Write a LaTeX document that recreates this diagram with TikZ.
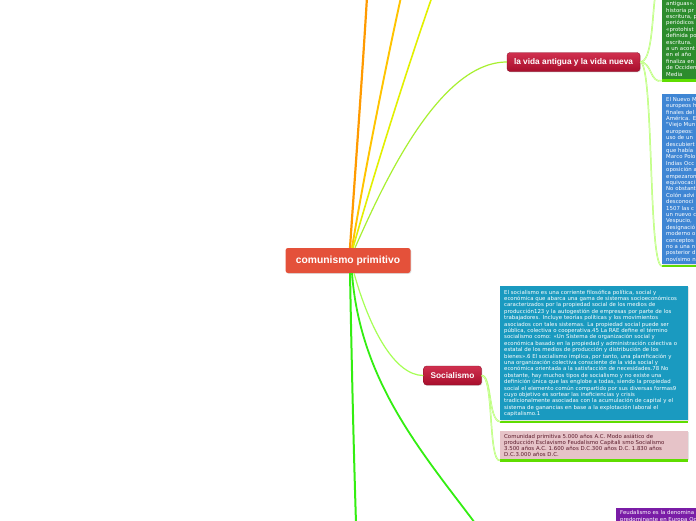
\documentclass[tikz,border=0pt]{standalone}
\usepackage{fontspec}
\setmainfont{Liberation Sans}
\newfontfamily\boxfont{DejaVu Sans}
\usetikzlibrary{shadows}
\definecolor{cpred}{HTML}{E4513A}
\definecolor{crimtop}{HTML}{D0304F}
\definecolor{crimbot}{HTML}{A80E2C}
\definecolor{ggreen}{HTML}{2D8C2D}
\definecolor{bblue}{HTML}{3F86D4}
\definecolor{tteal}{HTML}{1A9AC0}
\definecolor{ppink}{HTML}{E6C3C8}
\definecolor{pinktext}{HTML}{5A1A2A}
\definecolor{ppurple}{HTML}{7A1CA6}
\definecolor{uline}{HTML}{5FDD00}
\definecolor{lorange}{HTML}{FF9A00}
\definecolor{lgold}{HTML}{FFC400}
\definecolor{lyellow}{HTML}{E2F000}
\definecolor{llime}{HTML}{A8F030}
\definecolor{lgreen}{HTML}{33EE11}
\definecolor{lpale}{HTML}{A6FF55}
\definecolor{lsub}{HTML}{B2FF66}
\tikzset{
  cnode/.style={fill=cpred, rounded corners=2.5pt, text=white, font=\bfseries\fontsize{10.3}{12}\selectfont,
    minimum width=125pt, minimum height=25pt, inner sep=0pt, drop shadow={opacity=0.25,shadow xshift=0.8pt,shadow yshift=-0.8pt}},
  mnode/.style={top color=crimtop, bottom color=crimbot, draw=crimbot!80!black, line width=0.3pt, rounded corners=3pt, text=white,
    font=\bfseries\fontsize{8.3}{10}\selectfont, minimum height=19pt, inner sep=0pt,
    drop shadow={opacity=0.25,shadow xshift=0.8pt,shadow yshift=-0.8pt}},
  tbox/.style={anchor=north west, align=left, text=white, inner xsep=4pt, inner ysep=3.5pt,
    font=\boxfont\fontsize{5.4}{6.4}\selectfont,
    drop shadow={opacity=0.2,shadow xshift=0.8pt,shadow yshift=-0.8pt}},
  ul/.style={draw=uline, line width=2.4pt},
  sub/.style={draw=lsub, line width=0.5pt, double=lsub!40!white, double distance=0.5pt},
}
\begin{document}
\begin{tikzpicture}[x=1pt,y=-1pt]
\clip (0,0) rectangle (696,520);
\fill[white] (0,0) rectangle (696,520);

% off-page coordinates
\coordinate (t1) at (367,-3);
\coordinate (t2) at (401,-3);
\coordinate (t3) at (432,-3);
\coordinate (t4) at (655,-3);
\coordinate (b1) at (356,523);
\coordinate (b2) at (475,523);

% boxes
\node[tbox, fill=ggreen, minimum width=60pt, text width=52pt, inner ysep=3pt] (gb) at (662,-7) {que carac\\antiguas».\\historia pr\\escritura, p\\periódicos\\«protohist\\definida po\\escritura. \\a un acont\\en el año \\finaliza en\\de Occiden\\Media};
\node[tbox, fill=bblue, minimum width=60pt, text width=52pt, inner ysep=3pt] (bb) at (662,94) {El Nuevo M\\europeos h\\finales del\\América. E\\"Viejo Mun\\europeos:\\uso de un\\descubiert\\que había\\Marco Polo\\Indias Occ\\oposición a\\empezaron\\equivocaci\\No obstant\\Colón advi\\desconoci\\1507 las c\\un nuevo c\\Vespucio, \\designació\\moderno o\\conceptos\\no a una n\\posterior d\\novísimo n};
\node[tbox, fill=tteal, text width=180pt] (sb) at (500,286) {El socialismo es una corriente filosófica política, social y\\económica que abarca una gama de sistemas socioeconómicos\\caracterizados por la propiedad social de los medios de\\producción123 y la autogestión de empresas por parte de los\\trabajadores. Incluye teorías políticas y los movimientos\\asociados con tales sistemas. La propiedad social puede ser\\pública, colectiva o cooperativa.45 La RAE define el término\\socialismo como: «Un Sistema de organización social y\\económica basado en la propiedad y administración colectiva o\\estatal de los medios de producción y distribución de los\\bienes».6 El socialismo implica, por tanto, una planificación y\\una organización colectiva consciente de la vida social y\\económica orientada a la satisfacción de necesidades.78 No\\obstante, hay muchos tipos de socialismo y no existe una\\definición única que las englobe a todas, siendo la propiedad\\social el elemento común compartido por sus diversas formas9\\cuyo objetivo es sortear las ineficiencias y crisis\\tradicionalmente asociadas con la acumulación de capital y el\\sistema de ganancias en base a la explotación laboral el\\capitalismo.1};
\node[tbox, fill=ppink, text=pinktext, text width=180pt, inner ysep=2.5pt, font=\boxfont\fontsize{5.4}{6.1}\selectfont] (pb) at (500,431) {Comunidad primitiva 5.000 años A.C. Modo asiático de\\producción Esclavismo Feudalismo Capitali smo Socialismo\\3.500 años A.C. 1.600 años D.C.300 años D.C. 1.830 años\\D.C.3.000 años D.C.};
\node[tbox, fill=ppurple, minimum width=90pt, text width=82pt, inner ysep=2.5pt] (fb) at (616,508) {Feudalismo es la denomina\\predominante en Europa Oc};

% underlines
\draw[ul] ([yshift=-1.3pt]gb.south west) -- ([yshift=-1.3pt]gb.south east);
\draw[ul] ([yshift=-1.3pt]bb.south west) -- ([yshift=-1.3pt]bb.south east);
\draw[ul] ([yshift=-1.3pt]sb.south west) -- ([yshift=-1.3pt]sb.south east);
\draw[ul] ([yshift=-1.3pt]pb.south west) -- ([yshift=-1.3pt]pb.south east);

% main nodes
\node[cnode] (cp) at (348,260.5) {comunismo primitivo};
\node[mnode, minimum width=133pt] (vida) at (573.5,62) {la vida antigua y la vida nueva};
\node[mnode, minimum width=58pt] (soc) at (452.5,375.5) {Socialismo};

% connectors from centre
\draw[lorange, line width=2.2pt] ([xshift=2pt]cp.north) .. controls (356,160) and (362,80) .. (t1);
\draw[lgold, line width=1.9pt] ([xshift=4pt]cp.north) .. controls (365,170) and (385,70) .. (t2);
\draw[lyellow, line width=1.6pt] ([xshift=5pt]cp.north) .. controls (375,170) and (410,60) .. (t3);
\draw[llime, line width=1.2pt] ([xshift=7pt]cp.north) .. controls (385,180) and (440,62) .. (vida.west);
\draw[lgreen, line width=2pt] ([xshift=2pt]cp.south) .. controls (352,380) and (354,460) .. (b1);
\draw[lgreen, line width=1.8pt] ([xshift=4pt]cp.south) .. controls (360,380) and (420,450) .. (b2);
\draw[lpale, line width=1.2pt] ([xshift=6pt]cp.south) .. controls (370,330) and (395,375.5) .. (soc.west);

% connectors from "la vida antigua y la vida nueva"
\draw[sub] (vida.east) .. controls (652,62) and (652,20) .. (t4);
\draw[sub] (vida.east) .. controls (652,62) and (650,84) .. ([yshift=-1.3pt]gb.south west);
\draw[sub] (vida.east) .. controls (654,62) and (648,268) .. ([yshift=-1.3pt]bb.south west);

% connectors from "Socialismo"
\draw[sub] (soc.east) .. controls (492,375.5) and (488,420) .. ([yshift=-1.3pt]sb.south west);
\draw[sub] (soc.east) .. controls (494,375.5) and (488,462) .. ([yshift=-1.3pt]pb.south west);
\end{tikzpicture}
\end{document}
